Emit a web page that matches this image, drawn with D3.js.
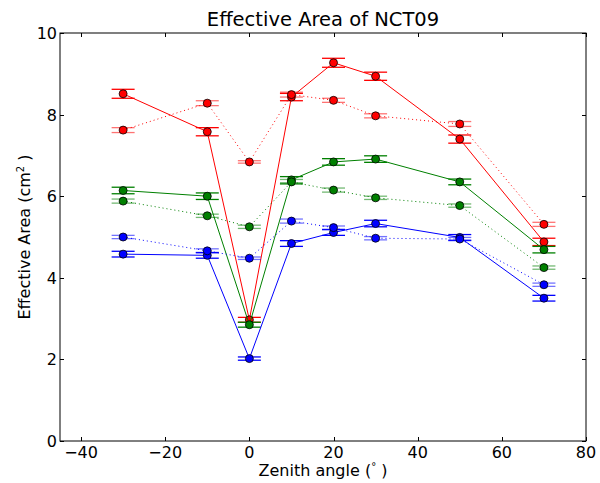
<!DOCTYPE html>
<html>
<head>
<meta charset="utf-8">
<script src="https://cdn.jsdelivr.net/npm/d3@7"></script>
<style>
  html, body { margin: 0; padding: 0; background: #fff; }
  svg { display: block; font-family: "DejaVu Sans", sans-serif; }
</style>
</head>
<body>
<svg id="chart" width="600" height="483"></svg>
<script>
// Zenith angles (degrees) at which effective area was measured
const angles = [-30, -10, 0, 10, 20, 30, 50, 70];

// Effective area (cm^2) per configuration
const redSolid    = [8.51, 7.58, 2.97, 8.43, 9.27, 8.94, 7.40, 4.88];
const redDotted   = [7.62, 8.28, 6.84, 8.49, 8.35, 7.97, 7.77, 5.31];
const greenSolid  = [6.14, 6.00, 2.85, 6.40, 6.84, 6.91, 6.35, 4.69];
const greenDotted = [5.88, 5.52, 5.25, 6.35, 6.15, 5.96, 5.77, 4.25];
const blueSolid   = [4.58, 4.55, 2.02, 4.84, 5.11, 5.33, 4.99, 3.50];
const blueDotted  = [5.00, 4.66, 4.48, 5.39, 5.23, 4.97, 4.95, 3.83];

// 1-sigma uncertainties (cm^2)
const redSolidErr    = [0.11, 0.10, 0.06, 0.09, 0.11, 0.10, 0.10, 0.09];
const redDottedErr   = [0.06, 0.06, 0.03, 0.06, 0.05, 0.05, 0.06, 0.05];
const greenSolidErr  = [0.08, 0.08, 0.06, 0.08, 0.08, 0.08, 0.07, 0.08];
const greenDottedErr = [0.05, 0.04, 0.04, 0.06, 0.05, 0.04, 0.04, 0.04];
const blueSolidErr   = [0.07, 0.07, 0.04, 0.07, 0.07, 0.08, 0.07, 0.07];
const blueDottedErr  = [0.04, 0.05, 0.03, 0.05, 0.04, 0.04, 0.04, 0.04];

const xTicks = [-40, -20, 0, 20, 40, 60, 80];
const yTicks = [0, 2, 4, 6, 8, 10];

const series = [
  { values: redSolid,    err: redSolidErr,    color: "#ff0000", dotted: false },
  { values: redDotted,   err: redDottedErr,   color: "#ff0000", dotted: true },
  { values: greenSolid,  err: greenSolidErr,  color: "#008000", dotted: false },
  { values: greenDotted, err: greenDottedErr, color: "#008000", dotted: true },
  { values: blueSolid,   err: blueSolidErr,   color: "#0000ff", dotted: false },
  { values: blueDotted,  err: blueDottedErr,  color: "#0000ff", dotted: true }
];

const margin = { left: 60, right: 14, top: 33, bottom: 42 };
const W = 600, H = 483;
const svg = d3.select("#chart");

const x = d3.scaleLinear().domain([-45, 80]).range([margin.left, W - margin.right]);
const y = d3.scaleLinear().domain([0, 10]).range([H - margin.bottom, margin.top]);

const plot = svg.append("g");

const line = d3.line().x((d) => x(d[0])).y((d) => y(d[1]));

series.forEach((s) => {
  const pts = angles.map((a, i) => [a, s.values[i], s.err[i]]);
  const g = plot.append("g");

  g.append("path")
    .datum(pts)
    .attr("d", line)
    .attr("fill", "none")
    .attr("stroke", s.color)
    .attr("stroke-width", 1)
    .attr("stroke-dasharray", s.dotted ? "1,3" : null);

  const capOpacity = s.dotted ? 0.55 : 1;
  const bars = g.selectAll(".eb").data(pts).enter().append("g");
  bars.append("line")
    .attr("x1", (d) => x(d[0])).attr("x2", (d) => x(d[0]))
    .attr("y1", (d) => y(d[1] - d[2])).attr("y2", (d) => y(d[1] + d[2]))
    .attr("stroke", s.color).attr("stroke-opacity", capOpacity);
  [-1, 1].forEach((sgn) => {
    bars.append("line")
      .attr("x1", (d) => x(d[0]) - 11.5).attr("x2", (d) => x(d[0]) + 11.5)
      .attr("y1", (d) => y(d[1] + sgn * d[2])).attr("y2", (d) => y(d[1] + sgn * d[2]))
      .attr("stroke", s.color).attr("stroke-width", 1.3)
      .attr("stroke-opacity", capOpacity);
  });

  g.selectAll("circle").data(pts).enter().append("circle")
    .attr("cx", (d) => x(d[0]))
    .attr("cy", (d) => y(d[1]))
    .attr("r", 4)
    .attr("fill", s.color)
    .attr("stroke", "#000")
    .attr("stroke-width", 0.8);
});

// Frame and inward ticks on all four sides
const axisG = svg.append("g").attr("stroke", "#000").attr("stroke-width", 1).attr("fill", "none");
const x0 = x.range()[0], x1 = x.range()[1], yb = y.range()[0], yt = y.range()[1];
axisG.append("rect").attr("x", x0).attr("y", yt).attr("width", x1 - x0).attr("height", yb - yt);

const tl = 4;
xTicks.forEach((t) => {
  const px = Math.round(x(t)) + 0.5;
  axisG.append("line").attr("x1", px).attr("x2", px).attr("y1", yb).attr("y2", yb - tl);
  axisG.append("line").attr("x1", px).attr("x2", px).attr("y1", yt).attr("y2", yt + tl);
});
yTicks.forEach((t) => {
  const py = Math.round(y(t)) + 0.5;
  axisG.append("line").attr("x1", x0).attr("x2", x0 + tl).attr("y1", py).attr("y2", py);
  axisG.append("line").attr("x1", x1).attr("x2", x1 - tl).attr("y1", py).attr("y2", py);
});

const fmt = (v) => (v < 0 ? "\u2212" + Math.abs(v) : String(v));

svg.append("g").selectAll("text").data(xTicks).enter().append("text")
  .attr("x", (d) => x(d)).attr("y", yb + 16.5)
  .attr("text-anchor", "middle")
  .attr("font-size", 16)
  .text(fmt);

svg.append("g").selectAll("text").data(yTicks).enter().append("text")
  .attr("x", x0 - 3).attr("y", (d) => y(d) + 6)
  .attr("text-anchor", "end")
  .attr("font-size", 16)
  .text(fmt);

// Title
svg.append("text")
  .attr("x", (x0 + x1) / 2).attr("y", 26)
  .attr("text-anchor", "middle")
  .attr("font-size", 19.5)
  .text("Effective Area of NCT09");

// X label
const xl = svg.append("text")
  .attr("x", (x0 + x1) / 2).attr("y", 476)
  .attr("text-anchor", "middle")
  .attr("font-size", 16);
xl.append("tspan").text("Zenith angle (");
xl.append("tspan").attr("font-size", 10).attr("dy", -6).text("\u00b0");
xl.append("tspan").attr("dy", 6).text(" )");

// Y label
const yl = svg.append("text")
  .attr("transform", `translate(30,${(yt + yb) / 2}) rotate(-90)`)
  .attr("text-anchor", "middle")
  .attr("font-size", 16);
yl.append("tspan").text("Effective Area (cm");
yl.append("tspan").attr("font-size", 10).attr("dy", -6).text("2");
yl.append("tspan").attr("dy", 6).text(" )");
</script>
</body>
</html>
